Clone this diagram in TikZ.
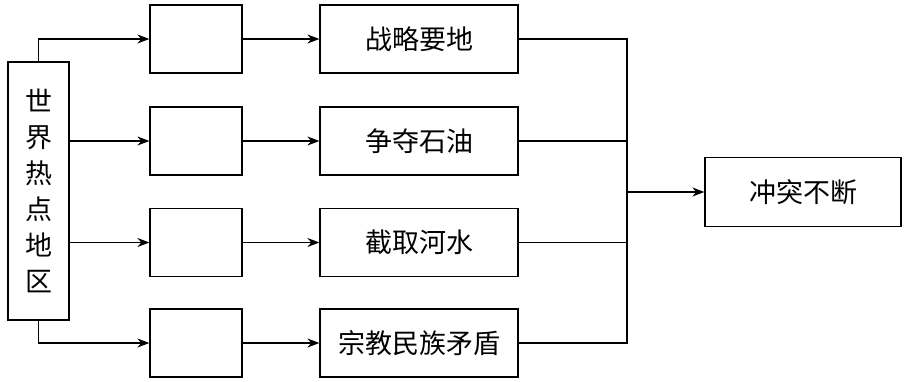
\documentclass[tikz,border=0pt]{standalone}
\usepackage{fontspec}
\newfontfamily\cjk{Noto Sans CJK SC}
\usetikzlibrary{arrows.meta}

\begin{document}
\begin{tikzpicture}[x=1pt, y=-1pt, line width=1.2pt,
    every node/.style={font=\cjk\fontsize{27}{36}\selectfont},
    box/.style={draw, inner sep=0pt, minimum height=68pt},
    arr/.style={-{Stealth[length=12pt, width=9pt]}}]
        \useasboundingbox (0,0) rectangle (905,382);

        % Nodes
        \node[box, align=center, minimum width=61pt, minimum height=258pt] (region) at (38.5,191) {世\\界\\热\\点\\地\\区};
        \node[box, minimum width=92pt] (blank1) at (196,39) {};
        \node[box, minimum width=92pt] (blank2) at (196,141) {};
        \node[box, minimum width=92pt] (blank3) at (196,242.5) {};
        \node[box, minimum width=92pt] (blank4) at (196,343) {};
        \node[box, minimum width=198pt] (strategic) at (419,39) {战略要地};
        \node[box, minimum width=198pt] (oil) at (419,141) {争夺石油};
        \node[box, minimum width=198pt] (water) at (419,242.5) {截取河水};
        \node[box, minimum width=198pt] (religion) at (419,343) {宗教民族矛盾};
        \node[box, minimum width=196pt, minimum height=69pt] (conflict) at (803,192) {冲突不断};
        \coordinate (join) at (627,192);

        % Arrows to the blank boxes
        \draw[arr] (region.north) |- (blank1.west);
        \draw[arr] (region.east |- blank2) -- (blank2.west);
        \draw[arr] (region.east |- blank3) -- (blank3.west);
        \draw[arr] (region.south) |- (blank4.west);

        % Arrows to the causes
        \draw[arr] (blank1.east) -- (strategic.west);
        \draw[arr] (blank2.east) -- (oil.west);
        \draw[arr] (blank3.east) -- (water.west);
        \draw[arr] (blank4.east) -- (religion.west);

        % Merging lines
        \draw (strategic.east) -| (join |- religion.east) -- (religion.east);
        \draw (oil.east) -- (join |- oil.east);
        \draw (water.east) -- (join |- water.east);
        \draw[arr] (join) -- (conflict.west);
    \end{tikzpicture}
\end{document}
